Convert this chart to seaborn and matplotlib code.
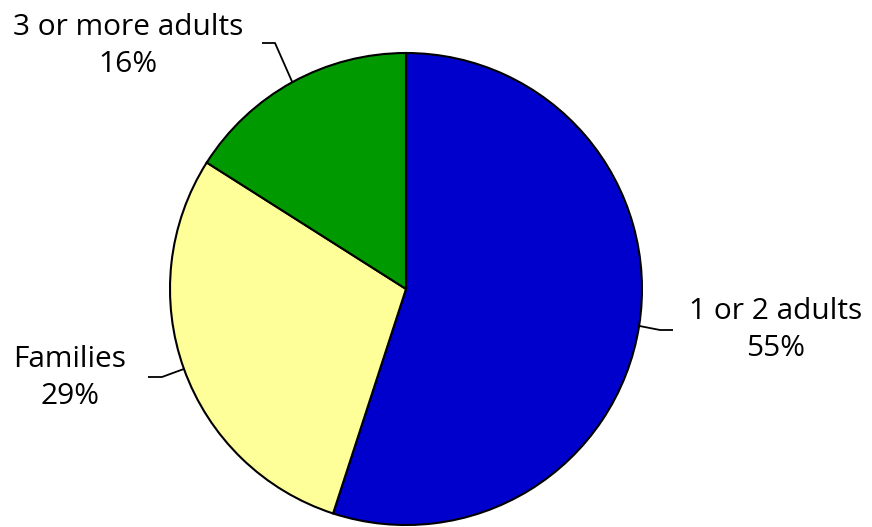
import numpy as np
import matplotlib
matplotlib.use("Agg")
import matplotlib.pyplot as plt
import seaborn as sns

categories = ["1 or 2 adults", "Families", "3 or more adults"]
shares = [55, 29, 16]
colors = ["#0000CC", "#FFFF99", "#009900"]

sns.set_theme(style="white")
plt.rcParams["font.family"] = ["Open Sans", "DejaVu Sans"]

W, H = 872, 527
fig = plt.figure(figsize=(W / 100, H / 100), dpi=100)
ax = fig.add_axes([0, 0, 1, 1])

cx, cy, r = 406, H - 289, 236
wedges, _ = ax.pie(shares, colors=colors, startangle=90, counterclock=False,
                   center=(cx, cy), radius=r, frame=True,
                   wedgeprops=dict(edgecolor="black", linewidth=1.5))
ax.set_xlim(0, W)
ax.set_ylim(0, H)
ax.set_aspect("equal")
ax.axis("off")

# label layout: (text x, text y, elbow x, end x) in pixels
layout = {
    "1 or 2 adults": (776, 330, 660, 673),
    "Families": (70, 378, 162, 148),
    "3 or more adults": (128, 46, 275, 262),
}
label_y_line = {"1 or 2 adults": 330, "Families": 377, "3 or more adults": 43}

for w, cat, s in zip(wedges, categories, shares):
    mid = np.deg2rad((w.theta1 + w.theta2) / 2)
    ex, ey = cx + r * np.cos(mid), cy + r * np.sin(mid)
    tx, ty, elx, endx = layout[cat]
    ly = H - label_y_line[cat]
    ax.plot([ex, elx, endx], [ey, ly, ly], color="black", lw=1.3,
            solid_capstyle="butt")
    ax.text(tx, H - ty, f"{cat}\n{s}%", ha="center", va="center",
            fontsize=21.5, linespacing=1.4, color="black")

fig.savefig("out.png", dpi=100)
